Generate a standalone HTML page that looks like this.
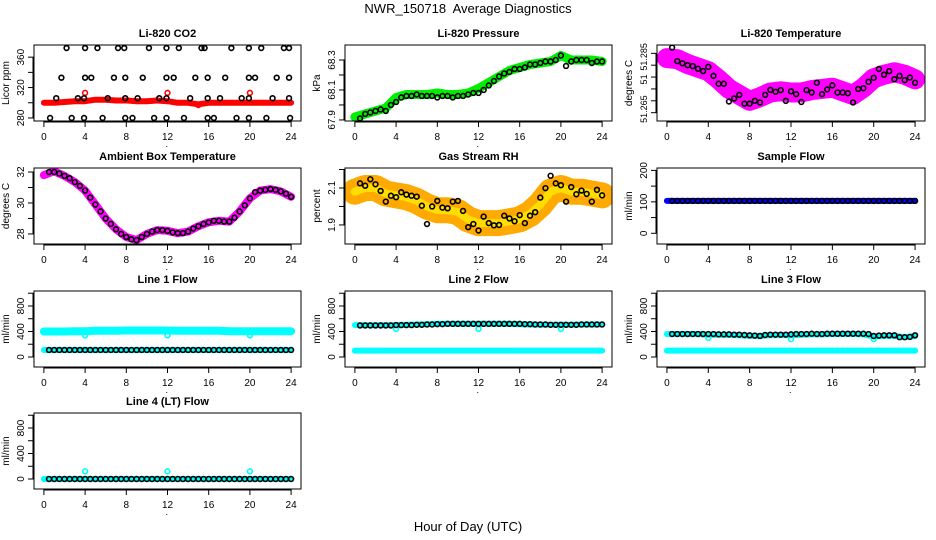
<!DOCTYPE html>
<html><head><meta charset="utf-8"><style>
body{margin:0;background:#fff;}
svg{display:block;font-family:"Liberation Sans",sans-serif;}
</style></head><body>
<svg id="fig" width="936" height="540" viewBox="0 0 936 540" xmlns="http://www.w3.org/2000/svg">
<rect width="936" height="540" fill="#fff"/>
<text x="468" y="13" text-anchor="middle" font-size="13" style="white-space:pre">NWR_150718  Average Diagnostics</text>
<text x="468" y="531" text-anchor="middle" font-size="13">Hour of Day (UTC)</text>
</svg>
<script>
const halfHours=[0.5,1,1.5,2,2.5,3,3.5,4,4.5,5,5.5,6,6.5,7,7.5,8,8.5,9,9.5,10,10.5,11,11.5,12,12.5,13,13.5,14,14.5,15,15.5,16,16.5,17,17.5,18,18.5,19,19.5,20,20.5,21,21.5,22,22.5,23,23.5,24];
const hours=[0,1,2,3,4,5,6,7,8,9,10,11,12,13,14,15,16,17,18,19,20,21,22,23,24];
const xTicks=[0,4,8,12,16,20,24];
// CO2
const co2Band=[300,300,301,302,302,304,304,303,303,302,302,303,302,300,300,298,300,300,300,300,300,300,300,300,300];
const co2HiHours=[2.2,4.0,5.2,7.2,7.8,10.2,11.9,13.1,15.3,15.6,18.2,19.9,21.1,23.3,23.8];
const co2HiVals=[372,372,372,372,372,372,372,372,372,372,372,372,372,372,372];
const co2MidHours=[1.7,4.0,4.6,6.8,7.9,9.6,11.9,12.6,14.7,15.9,17.6,19.9,20.5,22.6,23.8];
const co2MidVals=[333,333,333,333,333,333,333,333,333,333,333,333,333,333,333];
const co2LowHours=[1.2,3.3,3.9,6.2,7.9,9.1,11.2,11.9,14.2,15.9,17.1,19.2,19.9,22.2,23.8];
const co2LowVals=[306,306,306,306,306,306,306,306,306,306,306,306,306,306,306];
const co2MinHours=[0.6,2.7,3.9,5.7,7.9,8.6,10.7,11.9,13.6,15.9,16.5,18.7,19.9,21.6,23.9];
const co2MinVals=[280,280,280,280,280,280,280,280,280,280,280,280,280,280,280];
const co2RedHours=[4,12,20,15];
const co2RedVals=[313,313,313,297];
// Pressure
const presBand=[67.92,67.94,67.96,67.98,68.05,68.07,68.07,68.07,68.08,68.07,68.07,68.08,68.11,68.15,68.19,68.23,68.25,68.27,68.28,68.29,68.33,68.3,68.3,68.3,68.29];
const presCircles=[67.91,67.94,67.95,67.96,67.97,67.96,68.0,68.02,68.05,68.06,68.06,68.07,68.06,68.06,68.06,68.05,68.06,68.06,68.05,68.06,68.06,68.07,68.08,68.08,68.1,68.13,68.16,68.19,68.21,68.22,68.24,68.24,68.25,68.27,68.27,68.28,68.29,68.29,68.3,68.33,68.26,68.29,68.3,68.3,68.3,68.28,68.29,68.29];
// Temperature
const tempBand=[51.288,51.2875,51.2855,51.284,51.2825,51.279,51.275,51.2725,51.270,51.2715,51.2735,51.274,51.2735,51.2735,51.2745,51.275,51.2755,51.274,51.2725,51.2755,51.2795,51.281,51.282,51.281,51.279];
const tempCircles=[51.2924,51.2867,51.2858,51.2850,51.2846,51.2835,51.2825,51.2843,51.2805,51.2772,51.2772,51.2697,51.2710,51.2725,51.2688,51.2688,51.2700,51.2693,51.2725,51.2746,51.2738,51.2745,51.2700,51.2740,51.2728,51.2695,51.2745,51.2735,51.2776,51.2728,51.2748,51.2765,51.2735,51.2735,51.2732,51.2693,51.2750,51.2753,51.2780,51.2797,51.2834,51.2810,51.2825,51.2791,51.2805,51.2787,51.2798,51.2776];
// Ambient
const ambBand=[31.8,32.05,31.75,31.35,30.8,29.9,29.0,28.3,27.8,27.6,28.0,28.25,28.2,28.05,28.15,28.5,28.75,28.85,28.8,29.45,30.3,30.8,30.9,30.75,30.4];
const ambCircles=[32.0,32.0,31.9,31.75,31.6,31.35,31.1,30.8,30.35,29.9,29.45,29.0,28.65,28.3,28.0,27.8,27.65,27.6,27.8,28.0,28.15,28.25,28.25,28.2,28.1,28.05,28.05,28.15,28.35,28.5,28.65,28.75,28.85,28.85,28.8,28.8,29.05,29.45,29.85,30.3,30.7,30.8,30.85,30.9,30.85,30.75,30.6,30.4];
// RH
const rhBand=[2.08,2.1,2.1,2.07,2.06,2.05,2.03,2.0,1.98,1.98,1.97,1.93,1.91,1.91,1.91,1.92,1.93,1.96,2.01,2.08,2.1,2.08,2.08,2.07,2.06];
const rhCircles=[2.125,2.112,2.147,2.12,2.084,2.026,2.058,2.05,2.077,2.064,2.058,2.053,2.004,1.905,2.0,2.03,1.994,1.99,2.026,2.03,1.976,1.888,1.905,1.87,1.945,1.91,1.898,1.9,1.95,1.935,1.92,1.953,1.91,1.95,1.969,2.048,2.099,2.166,2.125,2.115,2.026,2.105,2.066,2.086,2.068,2.026,2.09,2.06];
// Sample flow
const sampleBand=[103,103,103,103,103,103,103,103,103,103,103,103,103,103,103,103,103,103,103,103,103,103,103,103,103];
const sampleCircles=[103,103,103,103,103,103,103,103,103,103,103,103,103,103,103,103,103,103,103,103,103,103,103,103,103,103,103,103,103,103,103,103,103,103,103,103,103,103,103,103,103,103,103,103,103,103,103,103];
// Line flows
const line1CyanHigh=[400,400,400,405,405,410,410,410,415,415,415,415,415,410,410,410,410,410,405,405,405,405,405,405,405];
const line1CyanLow=[110,110,110,110,110,110,110,110,110,110,110,110,110,110,110,110,110,110,110,110,110,110,110,110,110];
const line1Circles=[110,110,110,110,110,110,110,110,110,110,110,110,110,110,110,110,110,110,110,110,110,110,110,110,110,110,110,110,110,110,110,110,110,110,110,110,110,110,110,110,110,110,110,110,110,110,110,110];
const line1Dips=[340,340,340];
const line2CyanHigh=[500,500,500,500,500,505,510,515,520,520,520,520,520,520,520,520,515,510,505,505,505,505,510,510,510];
const line2CyanLow=[100,100,100,100,100,100,100,100,100,100,100,100,100,100,100,100,100,100,100,100,100,100,100,100,100];
const line2Circles=[495,495,495,495,495,495,495,500,500,500,500,505,505,510,510,515,515,520,520,520,520,520,520,520,520,520,520,520,520,520,520,520,515,515,510,510,510,505,505,505,505,505,505,510,510,510,510,510];
const line2Dips=[440,440,440];
const line3CyanHigh=[360,360,360,360,350,350,345,340,330,330,340,345,340,350,355,355,360,360,360,355,320,330,330,310,330];
const line3CyanLow=[100,100,100,100,100,100,100,100,100,100,100,100,100,100,100,100,100,100,100,100,100,100,100,100,100];
const line3Circles=[360,360,360,360,360,360,360,360,360,355,355,355,350,350,345,340,335,330,345,350,350,350,350,355,360,360,360,365,360,360,365,365,365,365,365,365,365,365,360,330,335,340,340,340,310,310,315,340];
const line3Dips=[300,280,280];
const line4CyanLow=[0,0,0,0,0,0,0,0,0,0,0,0,0,0,0,0,0,0,0,0,0,0,0,0,0];
const line4Circles=[0,0,0,0,0,0,0,0,0,0,0,0,0,0,0,0,0,0,0,0,0,0,0,0,0,0,0,0,0,0,0,0,0,0,0,0,0,0,0,0,0,0,0,0,0,0,0,0];
const line4Dips=[120,120,120];
const dipHours=[4,12,20];

const NS='http://www.w3.org/2000/svg';
const svg=document.getElementById('fig');
const colX=[[34,301],[345,612],[657,925]];
const rowY=[[45,121],[168,244],[291,367],[413,489]];
const XLIM=[-0.96,24.96];

function el(tag,attrs,parent){const e=document.createElementNS(NS,tag);for(const k in attrs)e.setAttribute(k,attrs[k]);(parent||svg).appendChild(e);return e;}

function makePanel(col,row,title,ylab,ylim,yticks,ylabels,key,lfs){
  const [x0,x1]=colX[col],[y0,y1]=rowY[row];
  const g=el('g',{});
  
  
  const sx=h=>x0+(h-XLIM[0])/(XLIM[1]-XLIM[0])*(x1-x0);
  const sy=v=>y1-(v-ylim[0])/(ylim[1]-ylim[0])*(y1-y0);
  const t=el('text',{x:(x0+x1)/2,y:y0-8,'text-anchor':'middle','font-size':'11','font-weight':'bold'},g);
  t.textContent=title;
  
  
  const yl=el('text',{transform:`translate(${x0-25},${(y0+y1)/2}) rotate(-90)`,'text-anchor':'middle','font-size':'10'},g);
  yl.textContent=ylab;
  
  
  const xa=el('g',{},g);
  
  
  el('line',{x1:sx(0),x2:sx(24),y1:y1+1,y2:y1+1,stroke:'#000'},xa);
  xTicks.forEach(v=>{
    el('line',{x1:sx(v),x2:sx(v),y1:y1,y2:y1+6,stroke:'#000'},xa);
    const tl=el('text',{x:sx(v),y:y1+19,'text-anchor':'middle','font-size':'10'},xa);
    tl.textContent=v;
  });
  const ya=el('g',{},g);
  
  
  el('line',{x1:x0-1,x2:x0-1,y1:sy(yticks[0]),y2:sy(yticks[yticks.length-1]),stroke:'#000'},ya);
  yticks.forEach(v=>el('line',{x1:x0-6,x2:x0,y1:sy(v),y2:sy(v),stroke:'#000'},ya));
  ylabels.forEach(([v,s])=>{
    const tl=el('text',{transform:`translate(${x0-10},${sy(v)}) rotate(-90)`,'text-anchor':'middle','font-size':lfs||'10'},ya);
    tl.textContent=s;
  });
  el('text',{x:(x0+x1)/2-2,y:y1+26,'font-size':'9'},g).textContent='.';
  const plot=el('g',{},g);
  const cp='cp'+key;
  const c=el('clipPath',{id:cp},g);el('rect',{x:x0,y:y0,width:x1-x0,height:y1-y0},c);
  plot.setAttribute('clip-path',`url(#${cp})`);
  el('rect',{x:x0,y:y0,width:x1-x0,height:y1-y0,fill:'none',stroke:'#000'},g);
  return {sx,sy,plot,key};
}
function band(p,xs,vals,color,w,name){
  const d=xs.map((h,i)=>(i?'L':'M')+p.sx(h).toFixed(1)+','+p.sy(vals[i]).toFixed(1)).join('');
  const e=el('path',{d,fill:'none',stroke:color,'stroke-width':w,'stroke-linejoin':'round','stroke-linecap':'round'},p.plot);
  
  
  return e;
}
function circles(p,xs,vals,color,name,r,sw){
  const g=el('g',{},p.plot);
  
  
  xs.forEach((h,i)=>{
    const c=el('circle',{cx:p.sx(h),cy:p.sy(vals[i]),r:r||2.4,fill:'none',stroke:color,'stroke-width':sw||1.6},g);
    
    
  });
}

let p=makePanel(0,0,'Li-820 CO2','Licor ppm',[276,376],[280,300,320,340,360],[[280,'280'],[320,'320'],[360,'360']],'co2');
band(p,hours,co2Band,'#ff0000',6,'co2-band');
circles(p,co2RedHours,co2RedVals,'#ff0000','co2-red-points');
circles(p,co2HiHours,co2HiVals,'#000','co2-points-high');
circles(p,co2MidHours,co2MidVals,'#000','co2-points-mid');
circles(p,co2LowHours,co2LowVals,'#000','co2-points-low');
circles(p,co2MinHours,co2MinVals,'#000','co2-points-min');

p=makePanel(1,0,'Li-820 Pressure','kPa',[67.893,68.4],[67.9,68.0,68.1,68.2,68.3],[[67.9,'67.9'],[68.1,'68.1'],[68.3,'68.3']],'pressure');
band(p,hours,presBand,'#00ee00',9,'pressure-band');
circles(p,halfHours,presCircles,'#000','pressure-points');

p=makePanel(2,0,'Li-820 Temperature','degrees C',[51.2615,51.2935],[51.265,51.27,51.275,51.28,51.285,51.29],[[51.2665,'51.265'],[51.279,'51'],[51.2885,'51.285']],'temperature','9');
band(p,hours,tempBand,'#ff00ff',20,'temperature-band');
circles(p,halfHours,tempCircles,'#000','temperature-points');

p=makePanel(0,1,'Ambient Box Temperature','degrees C',[27.35,32.26],[28,29,30,31,32],[[28,'28'],[30,'30'],[32,'32']],'ambient');
band(p,hours,ambBand,'#ff00ff',8,'ambient-band');
circles(p,halfHours,ambCircles,'#000','ambient-points');

p=makePanel(1,1,'Gas Stream RH','percent',[1.797,2.208],[1.9,2.0,2.1,2.2],[[1.9,'1.9'],[2.1,'2.1']],'rh');
band(p,hours,rhBand,'#ffaa00',26,'rh-band');
band(p,hours,rhBand,'#ffdd00',8,'rh-band-core').setAttribute('stroke-dasharray','3 3');
circles(p,halfHours,rhCircles,'#000','rh-points');

p=makePanel(2,1,'Sample Flow','ml/min',[-34,207.6],[0,50,100,150,200],[[0,'0'],[100,'100'],[200,'200']],'sample-flow');
band(p,hours,sampleBand,'#0000ff',6,'sample-flow-band');
circles(p,halfHours,sampleCircles,'#000','sample-flow-points');

const FL=[-157,1035],FT=[0,200,400,600,800,1000],FLB=[[0,'0'],[400,'400'],[800,'800']];
p=makePanel(0,2,'Line 1 Flow','ml/min',FL,FT,FLB,'line1');
band(p,hours,line1CyanHigh,'#00ffff',8,'line1-cyan-high');
band(p,hours,line1CyanLow,'#00ffff',6,'line1-cyan-low');
circles(p,dipHours,line1Dips,'#00ffff','line1-cyan-dips');
circles(p,halfHours,line1Circles,'#000','line1-points');
p=makePanel(1,2,'Line 2 Flow','ml/min',FL,FT,FLB,'line2');
band(p,hours,line2CyanHigh,'#00ffff',6,'line2-cyan-high');
band(p,hours,line2CyanLow,'#00ffff',6,'line2-cyan-low');
circles(p,dipHours,line2Dips,'#00ffff','line2-cyan-dips');
circles(p,halfHours,line2Circles,'#000','line2-points');
p=makePanel(2,2,'Line 3 Flow','ml/min',FL,FT,FLB,'line3');
band(p,hours,line3CyanHigh,'#00ffff',6,'line3-cyan-high');
band(p,hours,line3CyanLow,'#00ffff',6,'line3-cyan-low');
circles(p,dipHours,line3Dips,'#00ffff','line3-cyan-dips');
circles(p,halfHours,line3Circles,'#000','line3-points');
p=makePanel(0,3,'Line 4 (LT) Flow','ml/min',FL,FT,FLB,'line4');
band(p,hours,line4CyanLow,'#00ffff',6,'line4-cyan-low');
circles(p,dipHours,line4Dips,'#00ffff','line4-cyan-dips');
circles(p,halfHours,line4Circles,'#000','line4-points');
</script>
</body></html>
